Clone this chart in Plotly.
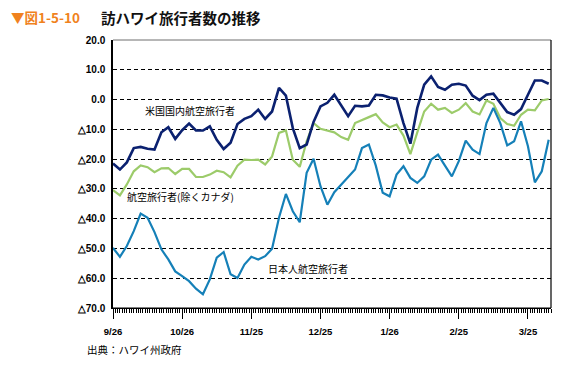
import plotly.graph_objects as go

# day offsets from 9/26 (sampled every 3 days)
days = list(range(0, 190, 3))

us_domestic = [-21.5, -23.5, -21.1, -16.3, -15.9, -16.5, -16.8, -11.0, -9.3, -13.2, -10.3, -8.1, -10.4, -10.4, -9.0, -13.5,
               -16.6, -14.5, -8.2, -6.5, -5.6, -3.4, -6.5, -4.0, 3.9, 1.3, -9.6, -16.3, -15.1, -7.5, -2.3, -1.1,
               1.6, -2.1, -5.6, -2.1, -2.3, -2.0, 1.6, 1.4, 0.7, 0.3, -7.9, -14.8, -2.8, 5.0, 7.8, 4.2,
               3.3, 5.0, 5.3, 4.7, 1.3, -0.2, 1.6, 2.0, -1.2, -4.2, -5.1, -3.2, 1.6, 6.4, 6.4, 5.3]

air_ex_canada = [-30.4, -32.2, -28.5, -24.1, -22.1, -22.7, -24.4, -23.1, -23.0, -25.0, -23.3, -23.3, -26.0, -26.0, -25.2, -23.9,
                 -24.4, -26.1, -22.2, -20.2, -20.3, -20.2, -21.8, -19.1, -11.2, -10.4, -20.2, -22.6, -14.0, -7.9, -9.8, -10.4,
                 -11.0, -12.6, -13.5, -7.9, -6.8, -5.9, -4.9, -7.7, -9.3, -8.4, -12.1, -18.3, -11.0, -4.0, -1.4, -3.4,
                 -2.8, -4.5, -3.4, -1.2, -4.0, -5.0, -0.3, -1.4, -6.2, -8.2, -8.8, -5.1, -3.4, -3.6, -0.3, 0.2]

japanese_air = [-49.8, -52.8, -49.2, -44.2, -38.3, -39.7, -44.5, -50.3, -53.7, -57.7, -59.3, -61.0, -63.5, -65.4, -60.4, -53.1,
                -51.2, -58.7, -59.9, -55.4, -52.8, -53.7, -52.6, -50.1, -39.7, -31.7, -37.5, -41.2, -24.6, -19.9, -29.1, -35.3,
                -31.1, -28.5, -25.8, -23.5, -16.3, -15.1, -22.2, -31.3, -32.5, -25.2, -22.4, -26.3, -28.0, -25.8, -20.2, -18.5,
                -22.2, -25.8, -20.7, -13.8, -16.8, -18.3, -7.9, -2.8, -7.9, -15.4, -14.0, -7.3, -15.7, -27.8, -24.1, -13.5]

x_tick_days = [0, 30, 60, 90, 120, 150, 180]
x_tick_labels = ["9/26", "10/26", "11/25", "12/25", "1/26", "2/25", "3/25"]
y_tick_vals = [20, 10, 0, -10, -20, -30, -40, -50, -60, -70]
y_tick_labels = ["20.0", "10.0", "0.0", "△10.0", "△20.0", "△30.0", "△40.0", "△50.0", "△60.0", "△70.0"]

JP = "Noto Sans CJK JP"
NUM = "Arial, Liberation Sans"

fig = go.Figure()
fig.add_trace(go.Scatter(x=days, y=air_ex_canada, mode="lines",
                         line=dict(color="#9CCB6A", width=2.2), hoverinfo="skip"))
fig.add_trace(go.Scatter(x=days, y=japanese_air, mode="lines",
                         line=dict(color="#1580B8", width=2.2), hoverinfo="skip"))
fig.add_trace(go.Scatter(x=days, y=us_domestic, mode="lines",
                         line=dict(color="#0B2170", width=2.6), hoverinfo="skip"))

# page body has an 8px margin: figure sits at (8,8)
fig.update_layout(
    width=553, height=357,
    margin=dict(l=105, r=10, t=32, b=57),
    paper_bgcolor="white", plot_bgcolor="white",
    showlegend=False,
    font=dict(family=JP, color="black"),
    xaxis=dict(
        range=[0, 190], tickmode="array", tickvals=x_tick_days, ticktext=x_tick_labels,
        showgrid=False, zeroline=False, showline=True, linecolor="black", linewidth=1.2,
        ticks="outside", ticklen=10, tickwidth=1, tickcolor="black",
        tickfont=dict(family=NUM, size=9.5, weight="bold", color="black"),
        ticklabelstandoff=4,
        minor=dict(dtick=1, tick0=0, ticks="outside", ticklen=4, tickwidth=1, tickcolor="black", showgrid=False),
    ),
    yaxis=dict(
        range=[-70, 20], tickmode="array", tickvals=y_tick_vals, ticktext=y_tick_labels,
        showgrid=True, gridcolor="black", gridwidth=1, griddash="4px,3px",
        zeroline=False, showline=True, linecolor="black", linewidth=1.5,
        ticks="", tickfont=dict(family=NUM, size=10, weight="bold", color="black"),
        ticklabelstandoff=4,
    ),
    shapes=[
        dict(type="line", xref="paper", yref="paper", x0=0, x1=1, y0=1, y1=1,
             line=dict(color="#6E6E6E", width=1), layer="above"),
        dict(type="line", xref="paper", yref="paper", x0=1, x1=1, y0=0, y1=1,
             line=dict(color="black", width=1.2), layer="above"),
        dict(type="line", xref="paper", yref="paper", x0=0, x1=1, y0=0, y1=0,
             line=dict(color="black", width=1.2), layer="above"),
    ],
    annotations=[
        dict(text="▼図1-5-10", xref="paper", yref="paper", x=(9 - 113) / 438, y=(308 - 17) / 268,
             xanchor="left", yanchor="middle", showarrow=False,
             font=dict(family=JP, size=13.5, color="#F0821E", weight="bold")),
        dict(text="訪ハワイ旅行者数の推移", xref="paper", yref="paper", x=(99 - 113) / 438, y=(308 - 17) / 268,
             xanchor="left", yanchor="middle", showarrow=False,
             font=dict(family=JP, size=14.5, color="#111111", weight="bold")),
        dict(text="出典：ハワイ州政府", xref="paper", yref="paper", x=(85 - 113) / 438, y=(308 - 349) / 268,
             xanchor="left", yanchor="middle", showarrow=False,
             font=dict(family=JP, size=10.5, color="black")),
        dict(text="米国国内航空旅行者", x=33.4, y=-3.8, xanchor="center", yanchor="middle", showarrow=False,
             font=dict(family=JP, size=10, color="black")),
        dict(text="航空旅行者(除くカナダ)", x=29.3, y=-32.6, xanchor="center", yanchor="middle", showarrow=False,
             font=dict(family=JP, size=10, color="black")),
        dict(text="日本人航空旅行者", x=84.6, y=-56.6, xanchor="center", yanchor="middle", showarrow=False,
             font=dict(family=JP, size=10, color="black")),
    ],
)

fig.write_html("out.html")
